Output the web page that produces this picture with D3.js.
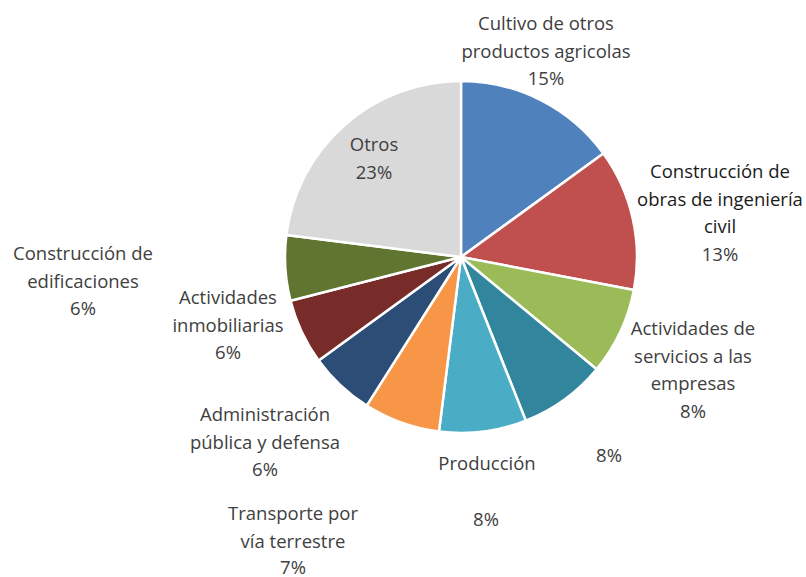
<!DOCTYPE html>
<html>
<head>
<meta charset="utf-8">
<script src="https://cdn.jsdelivr.net/npm/d3@7"></script>
<style>
  body { margin: 0; background: #fff; }
  text { font-family: "Open Sans", "Noto Sans", sans-serif; font-size: 18.5px; fill: #404040; }
</style>
</head>
<body>
<script>
// slice data, clockwise from 12 o'clock
const categories = [
  "Cultivo de otros productos agricolas",
  "Construcción de obras de ingeniería civil",
  "Actividades de servicios a las empresas",
  "",
  "Producción",
  "Transporte por vía terrestre",
  "Administración pública y defensa",
  "Actividades inmobiliarias",
  "Construcción de edificaciones",
  "Otros"
];
const values = [15, 13, 8, 8, 8, 7, 6, 6, 6, 23];
const colors = ["#4F81BD", "#C0504D", "#9BBB59", "#31859C", "#4BACC6",
                "#F79646", "#2C4D75", "#772C2A", "#5F7530", "#D9D9D9"];

// label text lines (as wrapped in the original)
const labelLines = [
  ["Cultivo de otros", "productos agricolas"],
  ["Construcción de", "obras de ingeniería", "civil"],
  ["Actividades de", "servicios a las", "empresas"],
  [],
  ["Producción"],
  ["Transporte por", "vía terrestre"],
  ["Administración", "pública y defensa"],
  ["Actividades", "inmobiliarias"],
  ["Construcción de", "edificaciones"],
  ["Otros"]
];

const width = 806, height = 577;
const cx = 461, cy = 257, radius = 176;
const lineH = 27.5;

// where each label block sits (center of first line), manual like the original
const labelPos = [
  [546, 22], [720, 170], [693, 327], [609, 454], [487, 462],
  [293, 512], [265, 413], [228, 296], [83, 252], [374, 143]
];
// Producción's percent sits apart from its name
const pctOverride = { 4: [486, 518] };

const svg = d3.select("body").append("svg")
    .attr("width", width)
    .attr("height", height);

const pie = d3.pie().sort(null).value(d => d);
const arc = d3.arc().innerRadius(0).outerRadius(radius);

const g = svg.append("g").attr("transform", "translate(" + cx + "," + cy + ")");

g.selectAll("path")
  .data(pie(values))
  .enter().append("path")
    .attr("d", arc)
    .attr("fill", (d, i) => colors[i])
    .attr("stroke", "#fff")
    .attr("stroke-width", 2.5)
    .attr("stroke-linejoin", "round");

// labels
const total = d3.sum(values);
values.forEach(function(v, i) {
  const pos = labelPos[i];
  const t = svg.append("text")
      .attr("text-anchor", "middle")
      .attr("dominant-baseline", "central");
  labelLines[i].forEach(function(line, k) {
    t.append("tspan")
      .attr("x", pos[0])
      .attr("y", pos[1] + k * lineH)
      .style("fill", i === 1 ? "#1a1a1a" : null)
      .text(line);
  });
  const pct = Math.round(v / total * 100) + "%";
  let p = pctOverride[i] ? pctOverride[i] : [pos[0], pos[1] + labelLines[i].length * lineH - (i === 5 ? 1.5 : 0)];
  t.append("tspan")
    .attr("x", p[0])
    .attr("y", p[1])
    .text(pct);
});
</script>
</body>
</html>
